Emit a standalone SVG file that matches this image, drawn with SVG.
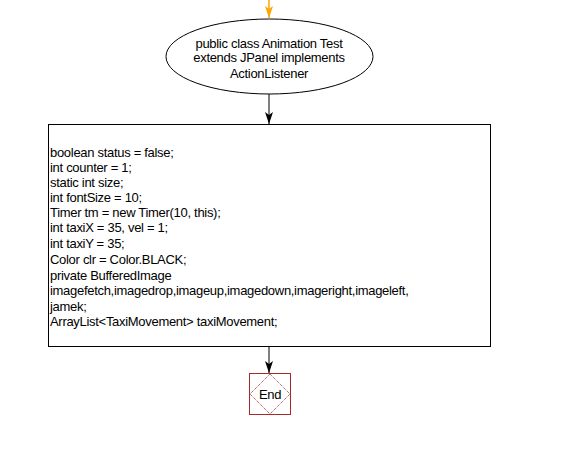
<svg xmlns="http://www.w3.org/2000/svg" width="567" height="476" viewBox="0 0 567 476">
<defs>
<marker id="ah" markerWidth="8" markerHeight="12" refX="4" refY="12" markerUnits="userSpaceOnUse" viewBox="0 0 8 12">
<path d="M0,0 L4,3 L8,0 L4,12 Z" fill="#000"/>
</marker>
<marker id="ahO" markerWidth="8" markerHeight="12" refX="4" refY="12" markerUnits="userSpaceOnUse" viewBox="0 0 8 12">
<path d="M0,0 L4,3 L8,0 L4,12 Z" fill="#FFA500"/>
</marker>
</defs>
<style>
text{font-family:"Liberation Sans",Arial,sans-serif;font-size:13px;fill:#000;letter-spacing:-0.3px}
.c{text-anchor:middle}
.edge{stroke:#000;stroke-width:1;fill:none}
</style>
<rect width="567" height="476" fill="#fff"/>
<g id="connectors">
<line x1="269" y1="0" x2="269" y2="18" stroke="#FFA500" stroke-width="1.5" marker-end="url(#ahO)"/>
<line class="edge" x1="269" y1="94" x2="269" y2="124" marker-end="url(#ah)"/>
<line class="edge" x1="269" y1="347" x2="269" y2="373" marker-end="url(#ah)"/>
</g>
<g id="start">
<ellipse cx="269.5" cy="56.5" rx="103.5" ry="37.5" fill="#fff" stroke="#000"/>
<text class="c" x="269" y="47.5">public class Animation Test</text>
<text class="c" x="269" y="62">extends JPanel implements</text>
<text class="c" x="269" y="77.5">ActionListener</text>
</g>
<g id="decl">
<rect x="48.5" y="124.5" width="442" height="222" fill="#fff" stroke="#000"/>
<text x="50" y="156.5">boolean status = false;</text>
<text x="50" y="171.5">int counter = 1;</text>
<text x="50" y="186.5">static int size;</text>
<text x="50" y="201.5">int fontSize = 10;</text>
<text x="50" y="216.5">Timer tm = new Timer(10, this);</text>
<text x="50" y="231.5">int taxiX = 35, vel = 1;</text>
<text x="50" y="248">int taxiY = 35;</text>
<text x="50" y="264">Color clr = Color.BLACK;</text>
<text x="50" y="279.5">private BufferedImage</text>
<text x="50" y="295">imagefetch,imagedrop,imageup,imagedown,imageright,imageleft,</text>
<text x="50" y="310.5">jamek;</text>
<text x="50" y="326">ArrayList&lt;TaxiMovement&gt; taxiMovement;</text>
</g>
<g id="end">
<rect x="249.5" y="373.5" width="41" height="41" fill="#fff" stroke="#A52A2A"/>
<path d="M270,374 L290,394 L270,414 L250,394 Z" fill="none" stroke="#A52A2A" stroke-dasharray="1,1"/>
<text class="c" x="270" y="399">End</text>
</g>
</svg>
